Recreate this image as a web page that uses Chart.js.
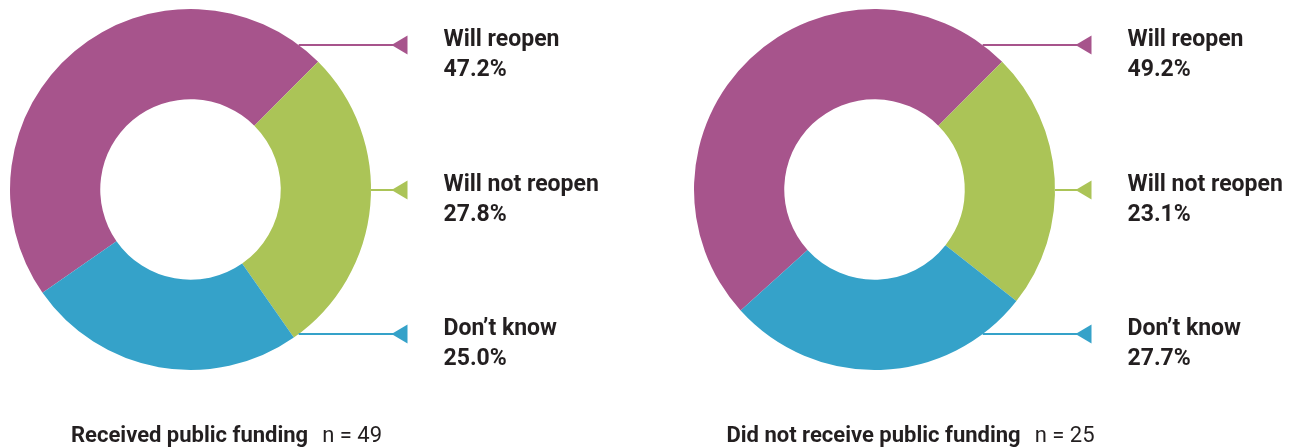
<!DOCTYPE html>
<html>
<head>
<meta charset="utf-8">
<script src="https://cdn.jsdelivr.net/npm/chart.js@4/dist/chart.umd.min.js"></script>
<style>
  html, body { margin: 0; padding: 0; background: #fff; }
  #wrap { position: relative; width: 1299px; height: 448px; }
  canvas { position: absolute; top: 0; }
  #fundedChart { left: 0; }
  #unfundedChart { left: 649px; }
</style>
</head>
<body>
<div id="wrap">
  <canvas id="fundedChart" width="649" height="448"></canvas>
  <canvas id="unfundedChart" width="650" height="448"></canvas>
</div>
<script>
// answers, in the order the callouts are listed (top to bottom)
const categories = ['Will reopen', 'Will not reopen', 'Don\u2019t know'];
const fundedShares = [47.2, 27.8, 25.0];
const unfundedShares = [49.2, 23.1, 27.7];
const groupNames = ['Received public funding', 'Did not receive public funding'];
const sampleSizes = [49, 25];

const sliceColours = ['#a7548c', '#abc457', '#35a2c9'];
const textColour = '#231f20';
const fontFamily = 'Roboto, "Noto Sans", sans-serif';

// callout lines + labels on the right side of each ring, caption underneath
const callouts = {
  id: 'callouts',
  afterDraw(chart, args, opts) {
    const arc = chart.getDatasetMeta(0).data[0];
    if (!arc) return;
    const ctx = chart.ctx;
    const cx = arc.x, cy = arc.y, R = arc.outerRadius;
    const values = chart.data.datasets[0].data;
    const offsets = [-0.8, 0, 0.8];

    ctx.save();
    offsets.forEach((k, i) => {
      const y = Math.round(cy + k * R);
      const dy = y - cy;
      const x0 = cx + Math.sqrt(R * R - dy * dy);
      const tip = cx + 201;
      ctx.strokeStyle = sliceColours[i];
      ctx.fillStyle = sliceColours[i];
      ctx.lineWidth = 2;
      ctx.beginPath();
      ctx.moveTo(x0, y);
      ctx.lineTo(tip + 4, y);
      ctx.stroke();
      // arrow head pointing back at the ring
      ctx.beginPath();
      ctx.moveTo(tip, y);
      ctx.lineTo(tip + 16, y - 9.5);
      ctx.lineTo(tip + 16, y + 9.5);
      ctx.closePath();
      ctx.fill();

      ctx.fillStyle = textColour;
      ctx.textAlign = 'left';
      ctx.textBaseline = 'alphabetic';
      ctx.font = 'bold 23px ' + fontFamily;
      ctx.fillText(chart.data.labels[i], cx + 253, y + 1);
      ctx.fillText(values[i].toFixed(1) + '%', cx + 253, y + 31);
    });

    // group caption: bold name + plain sample size
    ctx.fillStyle = textColour;
    ctx.font = 'bold 22px ' + fontFamily;
    const nameW = ctx.measureText(opts.name).width;
    ctx.font = '22px ' + fontFamily;
    const nText = 'n = ' + opts.n;
    const nW = ctx.measureText(nText).width;
    const gap = 14;
    let x = cx + 36 - (nameW + gap + nW) / 2;
    ctx.font = 'bold 22px ' + fontFamily;
    ctx.fillText(opts.name, x, 442);
    ctx.font = '22px ' + fontFamily;
    ctx.fillText(nText, x + nameW + gap, 442);
    ctx.restore();
  }
};

function makeRing(canvasId, shares, padding, name, n) {
  const total = shares.reduce((a, b) => a + b, 0);
  // first slice ends at the upper-right diagonal
  const rotation = 45 - shares[0] / total * 360;
  return new Chart(document.getElementById(canvasId), {
    type: 'doughnut',
    data: {
      labels: categories,
      datasets: [{
        data: shares,
        backgroundColor: sliceColours,
        borderWidth: 0,
        hoverOffset: 0
      }]
    },
    options: {
      responsive: false,
      animation: false,
      cutout: '50%',
      rotation: rotation,
      layout: { padding: padding },
      plugins: {
        legend: { display: false },
        tooltip: { enabled: false },
        callouts: { name: name, n: n }
      }
    },
    plugins: [callouts]
  });
}

makeRing('fundedChart', fundedShares, { left: 10, top: 9, right: 278, bottom: 78 }, groupNames[0], sampleSizes[0]);
makeRing('unfundedChart', unfundedShares, { left: 45, top: 9, right: 244, bottom: 78 }, groupNames[1], sampleSizes[1]);
</script>
</body>
</html>
